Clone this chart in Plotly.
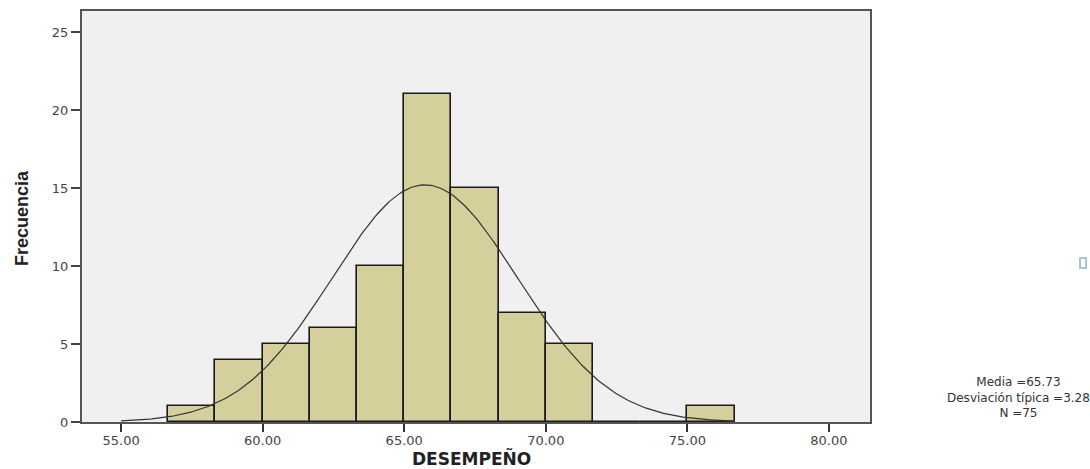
import numpy as np
import plotly.graph_objects as go

# Data
bin_start = 56.6667
bin_width = 5 / 3
counts = [1, 4, 5, 6, 10, 21, 15, 7, 5, 0, 0, 1]
mean = 65.73
sd = 3.28
n = 75
x_ticks = [55, 60, 65, 70, 75, 80]
x_tick_labels = ["55.00", "60.00", "65.00", "70.00", "75.00", "80.00"]
y_ticks = [0, 5, 10, 15, 20, 25]

centers = [bin_start + bin_width * (i + 0.5) for i in range(len(counts))]

xc = np.linspace(55, bin_start + bin_width * len(counts), 300)
yc = n * bin_width / (sd * np.sqrt(2 * np.pi)) * np.exp(-0.5 * ((xc - mean) / sd) ** 2)

W, H = 1090, 469
L, R, T, B = 82, 220, 11, 47
pw, ph = W - L - R, H - T - B


def px(x):
    return (x - L) / pw


def py(y):
    return (H - B - y) / ph


fig = go.Figure()
fig.add_trace(go.Bar(
    x=centers, y=counts, width=[bin_width] * len(counts),
    marker=dict(color="#d4cf9b", line=dict(color="#1a1a1a", width=1.6)),
    hoverinfo="skip", showlegend=False,
))
fig.add_trace(go.Scatter(
    x=xc, y=yc, mode="lines", line=dict(color="#333333", width=1.2),
    hoverinfo="skip", showlegend=False,
))

tick_font = dict(family="DejaVu Sans, sans-serif", size=13, color="#444444")

fig.update_layout(
    template="none",
    width=W, height=H,
    margin=dict(l=L, r=R, t=T, b=B, pad=0),
    paper_bgcolor="white", plot_bgcolor="#f0f0f0",
    bargap=0,
    font=dict(family="DejaVu Sans, sans-serif", color="#444444"),
    xaxis=dict(
        range=[53.62, 81.45], tickvals=x_ticks, ticktext=x_tick_labels,
        ticks="outside", ticklen=8, tickwidth=2, tickcolor="#333333",
        showgrid=False, zeroline=False, showline=True, linewidth=2, linecolor="#555555",
        mirror=True, tickfont=tick_font, automargin=False, ticklabelstandoff=-3,
    ),
    yaxis=dict(
        range=[0, 26.35], tickvals=y_ticks,
        ticks="outside", ticklen=9, tickwidth=1.5, tickcolor="#444444",
        showgrid=False, zeroline=False, showline=True, linewidth=2, linecolor="#555555",
        mirror=True, tickfont=tick_font, automargin=False,
    ),
)

# Axis titles
fig.add_annotation(
    text="<b>DESEMPEÑO</b>", xref="paper", yref="paper", x=px(471), y=py(458),
    xanchor="center", yanchor="middle", showarrow=False,
    font=dict(family="DejaVu Sans, sans-serif", size=17, color="#222222"),
)
fig.add_annotation(
    text="<b>Frecuencia</b>", xref="paper", yref="paper", x=px(22), y=py(218),
    xanchor="center", yanchor="middle", showarrow=False, textangle=-90,
    font=dict(family="Liberation Sans, Arial, sans-serif", size=18, color="#222222"),
)

# Statistics text
stat_font = dict(family="DejaVu Sans, sans-serif", size=12, color="#333333")
fig.add_annotation(
    text=f"Media ={mean:.2f}<br>Desviación típica ={sd:.2f}<br>N ={n}",
    xref="paper", yref="paper", x=px(1018), y=py(397), xanchor="center", yanchor="middle",
    align="center", showarrow=False, font=stat_font,
)

# small light-blue mark at the right edge
fig.add_shape(type="rect", xref="paper", yref="paper",
              x0=px(1080), x1=px(1086), y0=py(268), y1=py(258),
              line=dict(color="#a9c2dc", width=2), fillcolor="rgba(0,0,0,0)")

fig.write_html("out.html", config={"displayModeBar": False},
               post_script="document.body.style.margin='0';")
